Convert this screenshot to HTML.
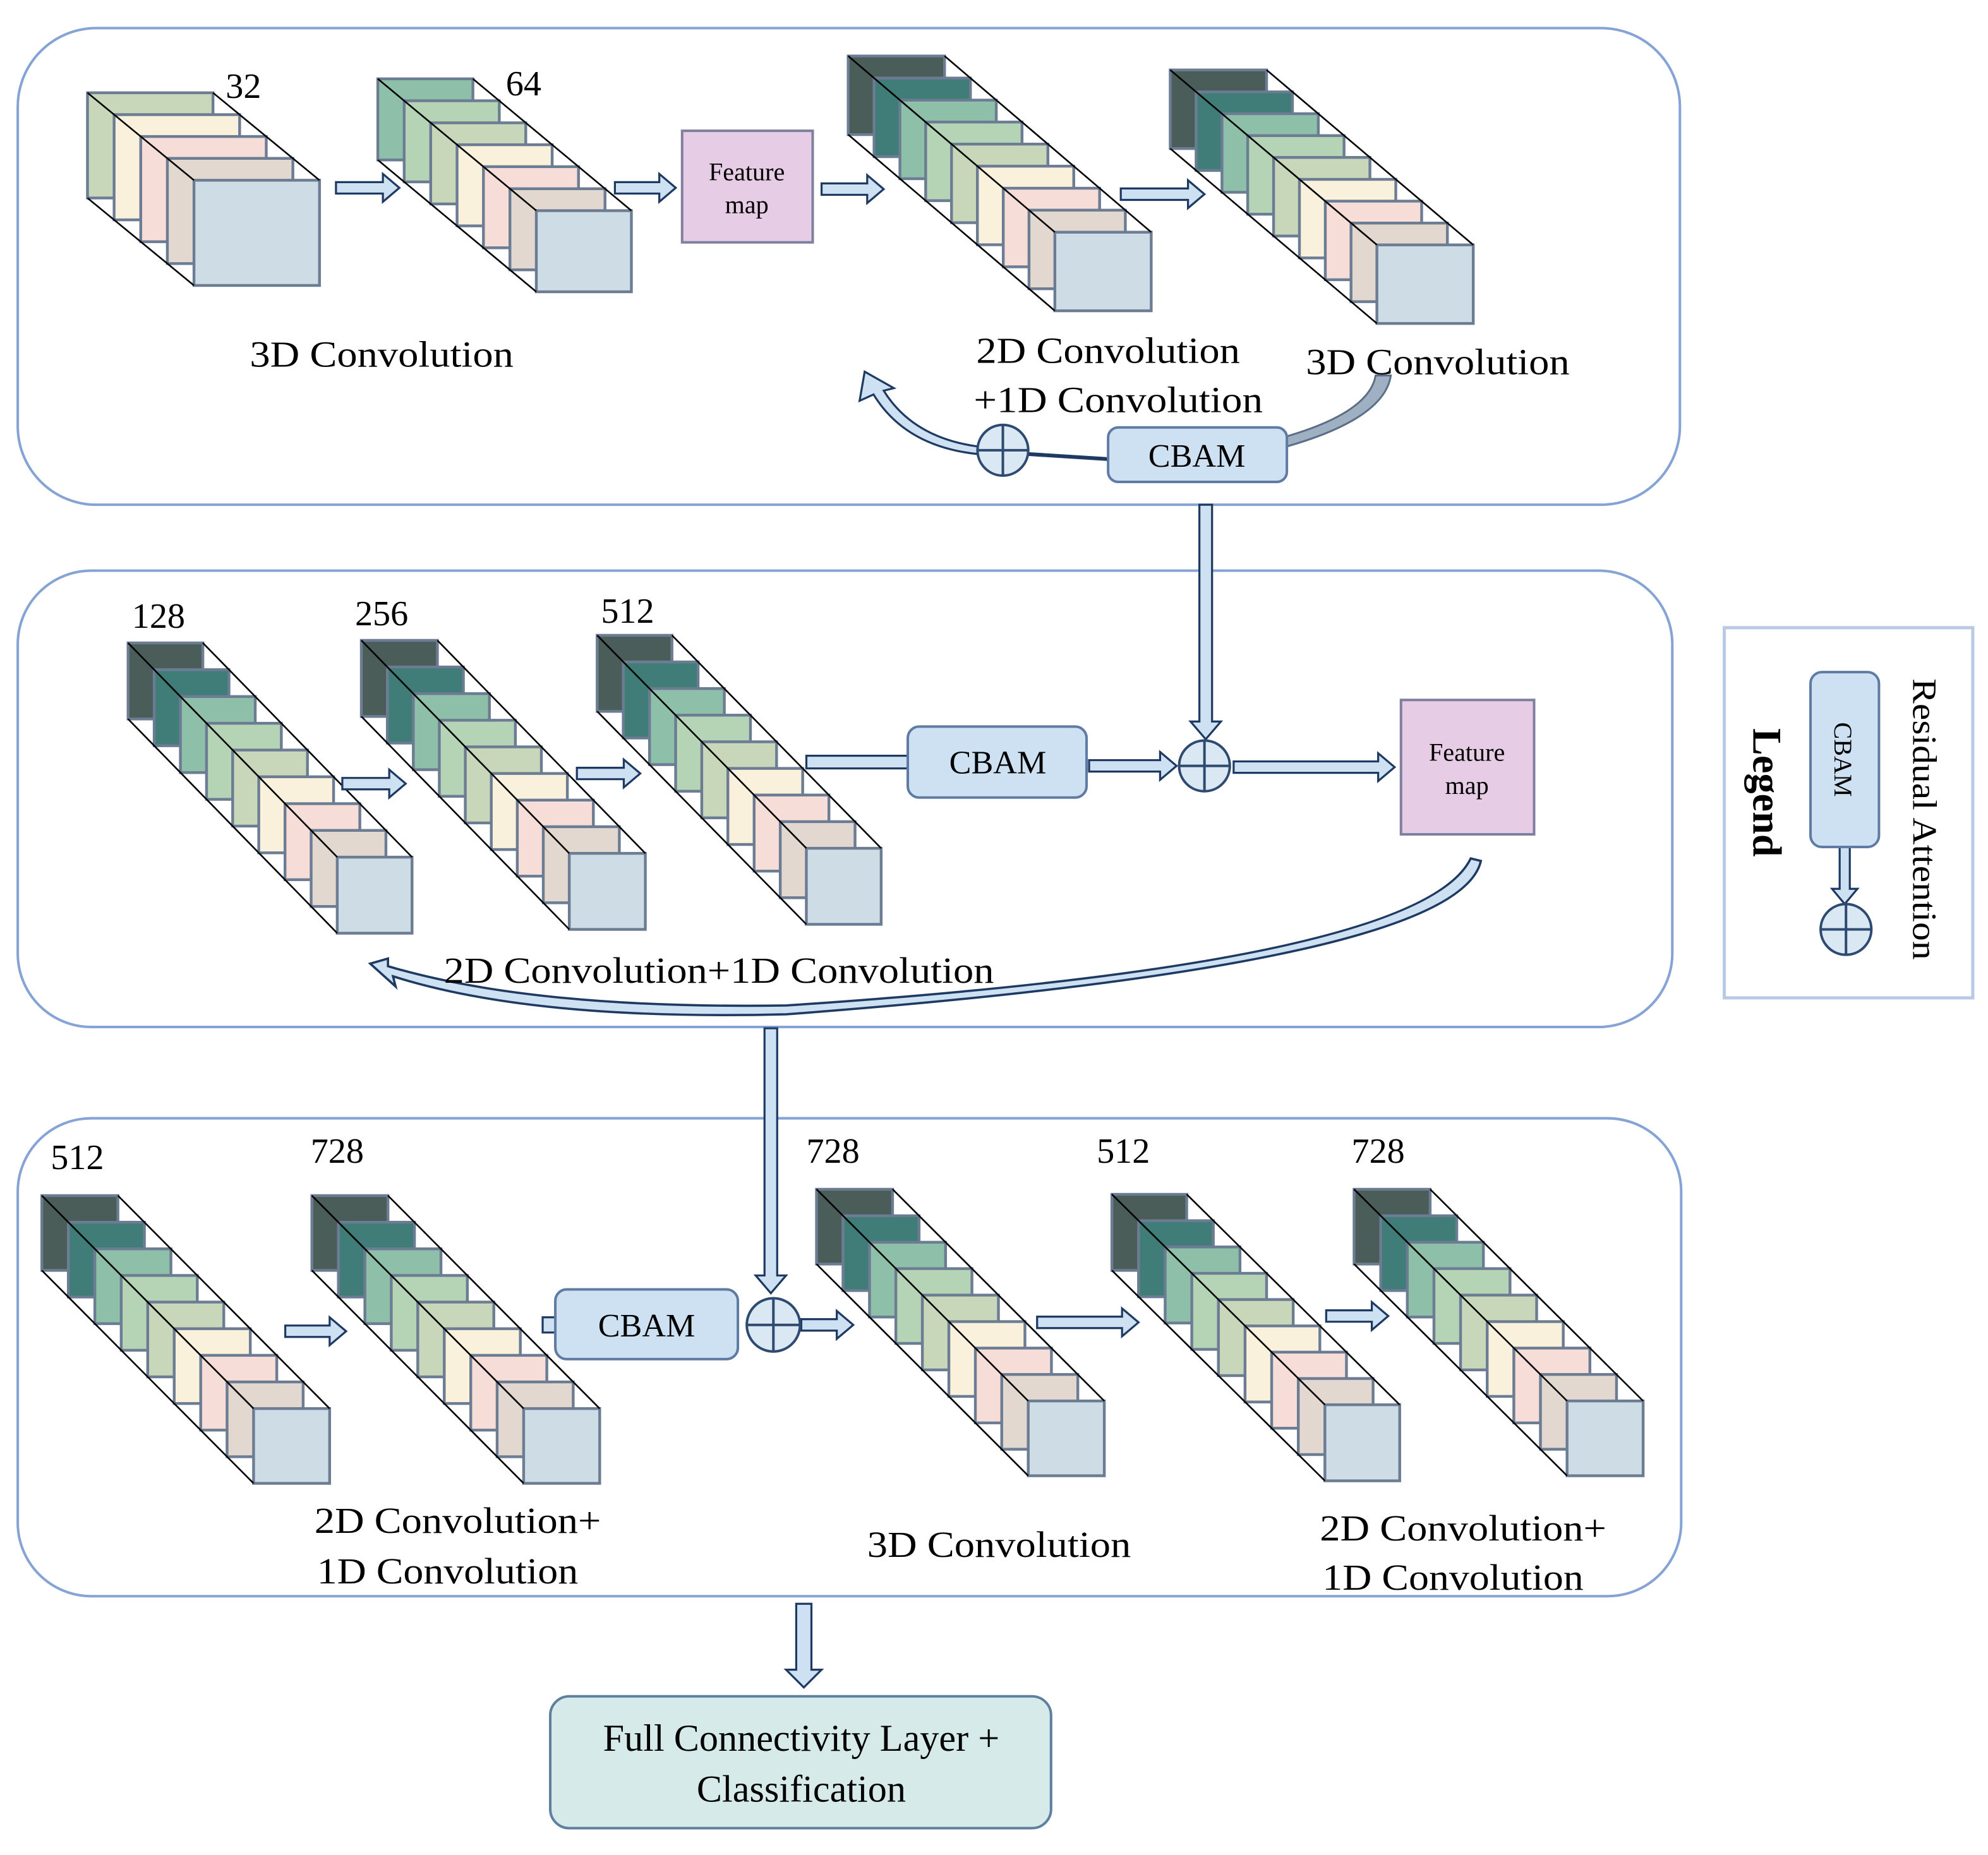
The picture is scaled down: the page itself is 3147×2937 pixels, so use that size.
<!DOCTYPE html>
<html><head><meta charset="utf-8"><style>
html,body{margin:0;padding:0;background:#fff}
svg{display:block}
text{font-family:"Liberation Serif",serif;fill:#000}
.st rect{stroke:#6C7C93;stroke-width:2.2}
.st line{stroke:#000;stroke-width:1.3}
.a{fill:#4A5D58}.b{fill:#417D78}.c{fill:#8EBFA8}.d{fill:#B5D4B6}.e{fill:#C8D6BA}.f{fill:#FAF1DD}.g{fill:#F7DDD8}.h{fill:#E3D8CF}.i{fill:#CEDCE6}
.ar{fill:#CDE1F2;stroke:#1E3A62;stroke-width:1.6}
.cp circle{fill:#D9E8F3;stroke:#2E4A70;stroke-width:2}
.cp line{stroke:#2E4A70;stroke-width:2}
</style></head><body>
<svg xmlns="http://www.w3.org/2000/svg" width="3147" height="2937" viewBox="0 0 1568 1463">
<rect width="1568" height="1463" fill="#fff"/>
<rect x="14" y="22" width="1311" height="376" rx="62" fill="none" stroke="#86A3D6" stroke-width="2"/>
<rect x="14" y="450" width="1305" height="360" rx="58" fill="none" stroke="#86A3D6" stroke-width="2"/>
<rect x="14" y="882" width="1312" height="377" rx="58" fill="none" stroke="#86A3D6" stroke-width="2"/>
<rect x="1360" y="495" width="196" height="292" fill="none" stroke="#B8CAE6" stroke-width="2.5"/>

<g class="st">
<!-- A -->
<rect class="e" x="69" y="73" width="99" height="83"/><rect class="f" x="90" y="90.25" width="99" height="83"/><rect class="g" x="111" y="107.5" width="99" height="83"/><rect class="h" x="132" y="124.75" width="99" height="83"/><rect class="i" x="153" y="142" width="99" height="83"/>
<line x1="69" y1="73" x2="153" y2="142"/><line x1="168" y1="73" x2="252" y2="142"/><line x1="69" y1="156" x2="153" y2="225"/>
<!-- B -->
<rect class="c" x="298" y="62" width="75" height="64"/><rect class="d" x="318.8" y="79.3" width="75" height="64"/><rect class="e" x="339.7" y="96.7" width="75" height="64"/><rect class="f" x="360.5" y="114" width="75" height="64"/><rect class="g" x="381.3" y="131.3" width="75" height="64"/><rect class="h" x="402.2" y="148.7" width="75" height="64"/><rect class="i" x="423" y="166" width="75" height="64"/>
<line x1="298" y1="62" x2="423" y2="166"/><line x1="373" y1="62" x2="498" y2="166"/><line x1="298" y1="126" x2="423" y2="230"/>
<!-- C -->
<rect class="a" x="669" y="44" width="76" height="62"/><rect class="b" x="689.4" y="61.4" width="76" height="62"/><rect class="c" x="709.8" y="78.8" width="76" height="62"/><rect class="d" x="730.1" y="96.1" width="76" height="62"/><rect class="e" x="750.5" y="113.5" width="76" height="62"/><rect class="f" x="770.9" y="130.9" width="76" height="62"/><rect class="g" x="791.3" y="148.3" width="76" height="62"/><rect class="h" x="811.6" y="165.6" width="76" height="62"/><rect class="i" x="832" y="183" width="76" height="62"/>
<line x1="669" y1="44" x2="832" y2="183"/><line x1="745" y1="44" x2="908" y2="183"/><line x1="669" y1="106" x2="832" y2="245"/>
<!-- D -->
<rect class="a" x="923" y="55" width="76" height="62"/><rect class="b" x="943.4" y="72.3" width="76" height="62"/><rect class="c" x="963.8" y="89.5" width="76" height="62"/><rect class="d" x="984.1" y="106.8" width="76" height="62"/><rect class="e" x="1004.5" y="124" width="76" height="62"/><rect class="f" x="1024.9" y="141.3" width="76" height="62"/><rect class="g" x="1045.3" y="158.5" width="76" height="62"/><rect class="h" x="1065.6" y="175.8" width="76" height="62"/><rect class="i" x="1086" y="193" width="76" height="62"/>
<line x1="923" y1="55" x2="1086" y2="193"/><line x1="999" y1="55" x2="1162" y2="193"/><line x1="923" y1="117" x2="1086" y2="255"/>
<!-- E -->
<rect class="a" x="101" y="507" width="59" height="60"/><rect class="b" x="121.6" y="528.1" width="59" height="60"/><rect class="c" x="142.3" y="549.3" width="59" height="60"/><rect class="d" x="162.9" y="570.4" width="59" height="60"/><rect class="e" x="183.5" y="591.5" width="59" height="60"/><rect class="f" x="204.1" y="612.6" width="59" height="60"/><rect class="g" x="224.8" y="633.8" width="59" height="60"/><rect class="h" x="245.4" y="654.9" width="59" height="60"/><rect class="i" x="266" y="676" width="59" height="60"/>
<line x1="101" y1="507" x2="266" y2="676"/><line x1="160" y1="507" x2="325" y2="676"/><line x1="101" y1="567" x2="266" y2="736"/>
<!-- F -->
<rect class="a" x="285" y="505" width="60" height="60"/><rect class="b" x="305.5" y="526" width="60" height="60"/><rect class="c" x="326" y="547" width="60" height="60"/><rect class="d" x="346.5" y="568" width="60" height="60"/><rect class="e" x="367" y="589" width="60" height="60"/><rect class="f" x="387.5" y="610" width="60" height="60"/><rect class="g" x="408" y="631" width="60" height="60"/><rect class="h" x="428.5" y="652" width="60" height="60"/><rect class="i" x="449" y="673" width="60" height="60"/>
<line x1="285" y1="505" x2="449" y2="673"/><line x1="345" y1="505" x2="509" y2="673"/><line x1="285" y1="565" x2="449" y2="733"/>
<!-- G -->
<rect class="a" x="471" y="501" width="59" height="60"/><rect class="b" x="491.6" y="522" width="59" height="60"/><rect class="c" x="512.3" y="543" width="59" height="60"/><rect class="d" x="532.9" y="564" width="59" height="60"/><rect class="e" x="553.5" y="585" width="59" height="60"/><rect class="f" x="574.1" y="606" width="59" height="60"/><rect class="g" x="594.8" y="627" width="59" height="60"/><rect class="h" x="615.4" y="648" width="59" height="60"/><rect class="i" x="636" y="669" width="59" height="60"/>
<line x1="471" y1="501" x2="636" y2="669"/><line x1="530" y1="501" x2="695" y2="669"/><line x1="471" y1="561" x2="636" y2="729"/>
<!-- H -->
<rect class="a" x="33" y="943" width="60" height="59"/><rect class="b" x="53.9" y="964" width="60" height="59"/><rect class="c" x="74.8" y="985" width="60" height="59"/><rect class="d" x="95.6" y="1006" width="60" height="59"/><rect class="e" x="116.5" y="1027" width="60" height="59"/><rect class="f" x="137.4" y="1048" width="60" height="59"/><rect class="g" x="158.3" y="1069" width="60" height="59"/><rect class="h" x="179.1" y="1090" width="60" height="59"/><rect class="i" x="200" y="1111" width="60" height="59"/>
<line x1="33" y1="943" x2="200" y2="1111"/><line x1="93" y1="943" x2="260" y2="1111"/><line x1="33" y1="1002" x2="200" y2="1170"/>
<!-- I -->
<rect class="a" x="246" y="943" width="60" height="59"/><rect class="b" x="266.9" y="964" width="60" height="59"/><rect class="c" x="287.8" y="985" width="60" height="59"/><rect class="d" x="308.6" y="1006" width="60" height="59"/><rect class="e" x="329.5" y="1027" width="60" height="59"/><rect class="f" x="350.4" y="1048" width="60" height="59"/><rect class="g" x="371.3" y="1069" width="60" height="59"/><rect class="h" x="392.1" y="1090" width="60" height="59"/><rect class="i" x="413" y="1111" width="60" height="59"/>
<line x1="246" y1="943" x2="413" y2="1111"/><line x1="306" y1="943" x2="473" y2="1111"/><line x1="246" y1="1002" x2="413" y2="1170"/>
<!-- J -->
<rect class="a" x="644" y="938" width="60" height="59"/><rect class="b" x="664.9" y="958.9" width="60" height="59"/><rect class="c" x="685.8" y="979.8" width="60" height="59"/><rect class="d" x="706.6" y="1000.6" width="60" height="59"/><rect class="e" x="727.5" y="1021.5" width="60" height="59"/><rect class="f" x="748.4" y="1042.4" width="60" height="59"/><rect class="g" x="769.3" y="1063.3" width="60" height="59"/><rect class="h" x="790.1" y="1084.1" width="60" height="59"/><rect class="i" x="811" y="1105" width="60" height="59"/>
<line x1="644" y1="938" x2="811" y2="1105"/><line x1="704" y1="938" x2="871" y2="1105"/><line x1="644" y1="997" x2="811" y2="1164"/>
<!-- K -->
<rect class="a" x="877" y="942" width="59" height="60"/><rect class="b" x="898" y="962.8" width="59" height="60"/><rect class="c" x="919" y="983.5" width="59" height="60"/><rect class="d" x="940" y="1004.3" width="59" height="60"/><rect class="e" x="961" y="1025" width="59" height="60"/><rect class="f" x="982" y="1045.8" width="59" height="60"/><rect class="g" x="1003" y="1066.5" width="59" height="60"/><rect class="h" x="1024" y="1087.3" width="59" height="60"/><rect class="i" x="1045" y="1108" width="59" height="60"/>
<line x1="877" y1="942" x2="1045" y2="1108"/><line x1="936" y1="942" x2="1104" y2="1108"/><line x1="877" y1="1002" x2="1045" y2="1168"/>
<!-- L -->
<rect class="a" x="1068" y="938" width="60" height="59"/><rect class="b" x="1089" y="958.9" width="60" height="59"/><rect class="c" x="1110" y="979.8" width="60" height="59"/><rect class="d" x="1131" y="1000.6" width="60" height="59"/><rect class="e" x="1152" y="1021.5" width="60" height="59"/><rect class="f" x="1173" y="1042.4" width="60" height="59"/><rect class="g" x="1194" y="1063.3" width="60" height="59"/><rect class="h" x="1215" y="1084.1" width="60" height="59"/><rect class="i" x="1236" y="1105" width="60" height="59"/>
<line x1="1068" y1="938" x2="1236" y2="1105"/><line x1="1128" y1="938" x2="1296" y2="1105"/><line x1="1068" y1="997" x2="1236" y2="1164"/>
</g>

<!-- arrows -->
<g class="ar">
<polygon points="265,143.5 302,143.5 302,137 315,148 302,159 302,152.5 265,152.5"/>
<polygon points="485,143.5 520,143.5 520,137 533,148 520,159 520,152.5 485,152.5"/>
<polygon points="648,144.5 684,144.5 684,138 697,149 684,160 684,153.5 648,153.5"/>
<polygon points="884,148.5 937,148.5 937,142 950,153 937,164 937,157.5 884,157.5"/>
<polygon points="270,613.5 307,613.5 307,607 320,618 307,629 307,622.5 270,622.5"/>
<polygon points="455,605.5 492,605.5 492,599 505,610 492,621 492,614.5 455,614.5"/>
<rect x="636" y="596" width="80" height="10"/>
<polygon points="859,599.5 915,599.5 915,593 928,604 915,615 915,608.5 859,608.5"/>
<polygon points="973,600.5 1087,600.5 1087,594 1100,605 1087,616 1087,609.5 973,609.5"/>
<polygon points="946,398 946,569 939,569 951,583 963,569 956,569 956,398"/>
<polygon points="603,811 603,1006 596,1006 608,1020 620,1006 613,1006 613,811"/>
<polygon points="225,1045.5 260,1045.5 260,1039 273,1050 260,1061 260,1054.5 225,1054.5"/>
<rect x="428" y="1039" width="10" height="12"/>
<polygon points="632,1040.5 660,1040.5 660,1034 673,1045 660,1056 660,1049.5 632,1049.5"/>
<polygon points="818,1038.5 885,1038.5 885,1032 898,1043 885,1054 885,1047.5 818,1047.5"/>
<polygon points="1046,1033.5 1082,1033.5 1082,1027 1095,1038 1082,1049 1082,1042.5 1046,1042.5"/>
<polygon points="628,1265 628,1317 620,1317 634,1331 648,1317 640,1317 640,1265"/>
<polygon points="1451,668 1451,701 1445,701 1455,713 1465,701 1459,701 1459,668"/>
<path d="M771 352 Q720 345 697 308 L705 306 L682 293 L678 316 L689 311 Q714 352 771 358 Z"/>
<path d="M1160 677 L1168 679 Q1150 760 620 800 Q420 805 310 770 L312 778 L292 760 L306 756 L306 762 Q420 796 620 793 Q1120 760 1160 677 Z" stroke-width="1.8"/>
</g>
<path d="M1085 296 L1097 296 Q1092 330 1015 352 L1015 344 Q1080 325 1085 296 Z" fill="#9FB0C2" stroke="#5A6E86" stroke-width="1.5"/>
<path d="M811 358 L874 362" stroke="#1E3A62" stroke-width="3" fill="none"/>

<!-- circle plus -->
<g class="cp">
<circle cx="791" cy="355" r="20"/><line x1="771" y1="355" x2="811" y2="355"/><line x1="791" y1="335" x2="791" y2="375"/>
<circle cx="950" cy="604" r="20"/><line x1="930" y1="604" x2="970" y2="604"/><line x1="950" y1="584" x2="950" y2="624"/>
<circle cx="610" cy="1045" r="21"/><line x1="589" y1="1045" x2="631" y2="1045"/><line x1="610" y1="1024" x2="610" y2="1066"/>
<circle cx="1456" cy="733" r="20"/><line x1="1436" y1="733" x2="1476" y2="733"/><line x1="1456" y1="713" x2="1456" y2="753"/>
</g>

<!-- feature maps -->
<rect x="538" y="103" width="103" height="88" fill="#E6CCE4" stroke="#7F7F9F" stroke-width="2"/>
<text x="589" y="142" font-size="20" text-anchor="middle">Feature</text>
<text x="589" y="168" font-size="20" text-anchor="middle">map</text>
<rect x="1105" y="552" width="105" height="106" fill="#E6CCE4" stroke="#7F7F9F" stroke-width="2"/>
<text x="1157" y="600" font-size="20" text-anchor="middle">Feature</text>
<text x="1157" y="626" font-size="20" text-anchor="middle">map</text>
<!-- CBAMs -->
<rect x="874" y="337" width="141" height="43" rx="8" fill="#CDE1F2" stroke="#5F7BA3" stroke-width="2"/>
<text x="944" y="368" font-size="26" text-anchor="middle">CBAM</text>
<rect x="716" y="573" width="141" height="56" rx="9" fill="#CDE1F2" stroke="#5F7BA3" stroke-width="2"/>
<text x="787" y="610" font-size="26" text-anchor="middle">CBAM</text>
<rect x="438" y="1017" width="144" height="55" rx="9" fill="#CDE1F2" stroke="#5F7BA3" stroke-width="2"/>
<text x="510" y="1054" font-size="26" text-anchor="middle">CBAM</text>
<!-- final -->
<rect x="434" y="1338" width="395" height="104" rx="15" fill="#D6EAEA" stroke="#5F7F9F" stroke-width="2"/>
<text x="632" y="1381" font-size="30" text-anchor="middle">Full Connectivity Layer +</text>
<text x="632" y="1421" font-size="30" text-anchor="middle">Classification</text>
<!-- labels -->
<g font-size="29">
<text x="178" y="77" font-size="28">32</text>
<text x="399" y="75" font-size="28">64</text>
<text x="104" y="495" font-size="28">128</text>
<text x="280" y="493" font-size="28">256</text>
<text x="474" y="491" font-size="28">512</text>
<text x="40" y="922" font-size="28">512</text>
<text x="245" y="917" font-size="28">728</text>
<text x="636" y="917" font-size="28">728</text>
<text x="865" y="917" font-size="28">512</text>
<text x="1066" y="917" font-size="28">728</text>
<text x="197" y="289" textLength="208" lengthAdjust="spacingAndGlyphs">3D Convolution</text>
<text x="770" y="286" textLength="208" lengthAdjust="spacingAndGlyphs">2D Convolution</text>
<text x="768" y="325" textLength="228" lengthAdjust="spacingAndGlyphs">+1D Convolution</text>
<text x="1030" y="295" textLength="208" lengthAdjust="spacingAndGlyphs">3D Convolution</text>
<text x="350" y="775" textLength="434" lengthAdjust="spacingAndGlyphs">2D Convolution+1D Convolution</text>
<text x="248" y="1209" textLength="226" lengthAdjust="spacingAndGlyphs">2D Convolution+</text>
<text x="250" y="1249" textLength="206" lengthAdjust="spacingAndGlyphs">1D Convolution</text>
<text x="684" y="1228" textLength="208" lengthAdjust="spacingAndGlyphs">3D Convolution</text>
<text x="1041" y="1215" textLength="226" lengthAdjust="spacingAndGlyphs">2D Convolution+</text>
<text x="1043" y="1254" textLength="206" lengthAdjust="spacingAndGlyphs">1D Convolution</text>
</g>
<!-- legend -->
<text transform="translate(1383,625) rotate(90)" font-size="32" font-weight="bold" text-anchor="middle">Legend</text>
<rect x="1428" y="530" width="54" height="138" rx="9" fill="#CDE1F2" stroke="#5F7BA3" stroke-width="2"/>
<text transform="translate(1447,599) rotate(90)" font-size="20" text-anchor="middle">CBAM</text>
<text transform="translate(1509,646) rotate(90)" font-size="27" text-anchor="middle" textLength="222" lengthAdjust="spacingAndGlyphs">Residual Attention</text>
</svg>
</body></html>
